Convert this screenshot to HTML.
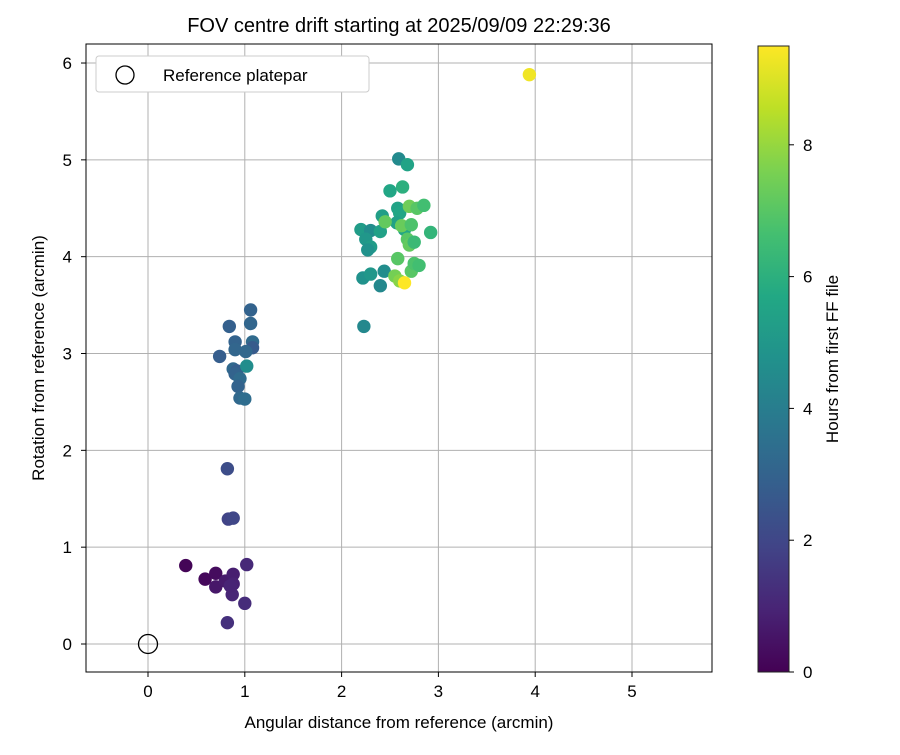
<!DOCTYPE html>
<html><head><meta charset="utf-8"><style>
body{margin:0;background:#fff;}
svg text{font-family:"Liberation Sans","DejaVu Sans",sans-serif;fill:#000;}
</style></head><body>
<svg id="chart" width="900" height="750" xmlns="http://www.w3.org/2000/svg">
<defs>
<linearGradient id="vir" x1="0" y1="1" x2="0" y2="0">
<stop offset="0" stop-color="#440154"/><stop offset="0.1" stop-color="#482475"/><stop offset="0.2" stop-color="#414487"/><stop offset="0.3" stop-color="#355f8d"/><stop offset="0.4" stop-color="#2a788e"/><stop offset="0.5" stop-color="#21918c"/><stop offset="0.6" stop-color="#22a884"/><stop offset="0.7" stop-color="#44bf70"/><stop offset="0.8" stop-color="#7ad151"/><stop offset="0.9" stop-color="#bddf26"/><stop offset="1" stop-color="#fde725"/>
</linearGradient>
</defs>
<text x="399" y="32" font-size="20" text-anchor="middle">FOV centre drift starting at 2025/09/09 22:29:36</text>
<g id="grid"></g>
<g id="pts"></g>
<rect x="86" y="44" width="626" height="628" fill="none" stroke="#000" stroke-width="1"/>
<g id="ticks"></g>
<text x="399" y="728" font-size="17" text-anchor="middle">Angular distance from reference (arcmin)</text>
<text transform="translate(44,358) rotate(-90)" font-size="17" text-anchor="middle">Rotation from reference (arcmin)</text>
<g>
<rect x="96" y="56" width="273" height="36" rx="3" fill="#fff" stroke="#ccc"/>
<circle cx="125" cy="75" r="9" fill="none" stroke="#000" stroke-width="1.3"/>
<text x="163" y="81" font-size="17">Reference platepar</text>
</g>
<rect x="758" y="46" width="31" height="626" fill="url(#vir)" stroke="#222" stroke-width="1"/>
<g id="cticks"></g>
<text transform="translate(838,359) rotate(-90)" font-size="17" text-anchor="middle">Hours from first FF file</text>
</svg>
<script>
const xTicks=[0,1,2,3,4,5];
const yTicks=[0,1,2,3,4,5,6];
const cTicks=[0,2,4,6,8];
const xs=[0.39,0.59,0.70,0.70,0.80,0.88,0.88,0.87,1.00,1.02,0.82,0.85,0.83,0.88,0.82,1.06,1.06,0.84,0.74,0.90,0.90,1.08,1.08,1.01,0.88,0.92,0.90,0.95,0.93,0.95,1.00,1.02,2.59,2.68,2.63,2.50,2.20,2.30,2.25,2.30,2.27,2.42,2.40,2.58,2.60,2.65,2.57,2.45,2.62,2.70,2.78,2.85,2.72,2.68,2.70,2.75,2.92,2.22,2.30,2.44,2.40,2.58,2.55,2.60,2.72,2.75,2.80,2.23,3.94,2.65];
const ys=[0.81,0.67,0.73,0.59,0.65,0.72,0.62,0.51,0.42,0.82,0.22,0.60,1.29,1.30,1.81,3.45,3.31,3.28,2.97,3.12,3.04,3.12,3.06,3.02,2.84,2.82,2.79,2.74,2.66,2.54,2.53,2.87,5.01,4.95,4.72,4.68,4.28,4.27,4.18,4.10,4.07,4.42,4.26,4.50,4.45,4.28,4.35,4.36,4.32,4.52,4.50,4.53,4.33,4.18,4.12,4.15,4.25,3.78,3.82,3.85,3.70,3.98,3.80,3.75,3.85,3.93,3.91,3.28,5.88,3.73];
const hours=[0.1,0.2,0.3,0.6,0.7,0.8,0.9,1.0,1.2,1.1,1.3,0.95,1.9,2.0,2.2,3.0,3.1,2.9,2.8,3.0,3.1,3.3,2.7,3.2,3.2,2.8,3.0,3.3,3.0,3.2,3.4,4.6,4.5,5.5,6.0,5.6,5.2,4.6,5.0,5.2,4.8,5.3,5.4,5.5,5.6,5.6,5.4,7.2,7.3,7.4,7.0,6.6,6.8,7.0,7.2,6.4,6.2,4.8,5.0,4.6,4.4,7.0,7.5,7.8,7.0,6.8,6.6,4.4,9.3,9.5];
const X=v=>148+v*96.8, Y=v=>644-v*96.83, C=v=>672-v*65.9, HMAX=9.5;
const vir=["#440154","#482475","#414487","#355f8d","#2a788e","#21918c","#22a884","#44bf70","#7ad151","#bddf26","#fde725"];
function hex(c){return [1,3,5].map(i=>parseInt(c.substr(i,2),16));}
function cmap(t){t=Math.max(0,Math.min(1,t))*10;const i=Math.min(9,Math.floor(t)),f=t-i;const a=hex(vir[i]),b=hex(vir[i+1]);return "rgb("+a.map((v,k)=>Math.round(v+(b[k]-v)*f)).join(",")+")";}
const NS="http://www.w3.org/2000/svg";
function mk(tag,attrs,parent){const e=document.createElementNS(NS,tag);for(const k in attrs)e.setAttribute(k,attrs[k]);document.getElementById(parent).appendChild(e);return e;}
xTicks.forEach(t=>{
 const g=mk("line",{x1:X(t),x2:X(t),y1:44,y2:672,stroke:"#b0b0b0","stroke-width":1},"grid");
 
 
 const tk=mk("line",{x1:X(t),x2:X(t),y1:672,y2:677,stroke:"#000"},"ticks");
 
 
 const tx=mk("text",{x:X(t),y:697,"font-size":17,"text-anchor":"middle"},"ticks");tx.textContent=t;
 
 
});
yTicks.forEach(t=>{
 const g=mk("line",{x1:86,x2:712,y1:Y(t),y2:Y(t),stroke:"#b0b0b0","stroke-width":1},"grid");
 
 
 const tk=mk("line",{x1:81,x2:86,y1:Y(t),y2:Y(t),stroke:"#000"},"ticks");
 
 
 const tx=mk("text",{x:72,y:Y(t)+6,"font-size":17,"text-anchor":"end"},"ticks");tx.textContent=t;
 
 
});
cTicks.forEach(t=>{
 const tk=mk("line",{x1:789,x2:794,y1:C(t),y2:C(t),stroke:"#000"},"cticks");
 
 
 const tx=mk("text",{x:803,y:C(t)+6,"font-size":17},"cticks");tx.textContent=t;
 
 
});
xs.forEach((x,i)=>{
 const c=mk("circle",{cx:X(x),cy:Y(ys[i]),r:6.7,fill:cmap(hours[i]/HMAX)},"pts");
 
 
});
const ref=mk("circle",{cx:X(0),cy:Y(0),r:9.5,fill:"none",stroke:"#000","stroke-width":1.3},"pts");


</script>
</body></html>
